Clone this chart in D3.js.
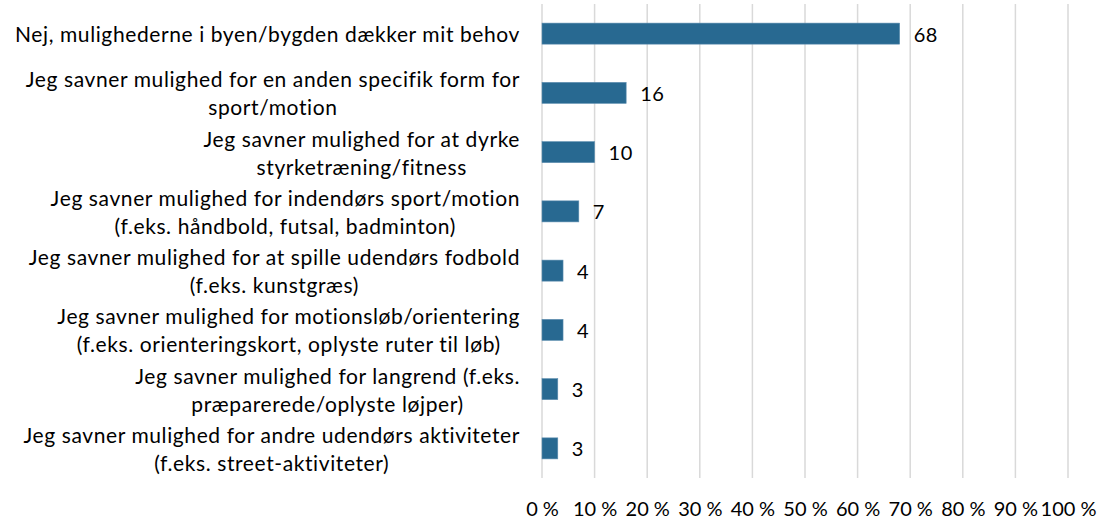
<!DOCTYPE html>
<html>
<head>
<meta charset="utf-8">
<script src="https://cdn.jsdelivr.net/npm/d3@7"></script>
<style>
  body { margin: 0; background: #fff; }
  text { font-family: Lato, "Open Sans", sans-serif; fill: #000; }
</style>
</head>
<body>
<div id="chart"></div>
<script>
/* chart data */
const categories = [
    ["Nej, mulighederne i byen/bygden dækker mit behov"],
    ["Jeg savner mulighed for en anden specifik form for", "sport/motion"],
    ["Jeg savner mulighed for at dyrke", "styrketræning/fitness"],
    ["Jeg savner mulighed for indendørs sport/motion", "(f.eks. håndbold, futsal, badminton)"],
    ["Jeg savner mulighed for at spille udendørs fodbold", "(f.eks. kunstgræs)"],
    ["Jeg savner mulighed for motionsløb/orientering", "(f.eks. orienteringskort, oplyste ruter til løb)"],
    ["Jeg savner mulighed for langrend (f.eks.", "præparerede/oplyste løjper)"],
    ["Jeg savner mulighed for andre udendørs aktiviteter", "(f.eks. street-aktiviteter)"]
];
const values = [68, 16, 10, 7, 4, 4, 3, 3];
const tickValues = [0, 10, 20, 30, 40, 50, 60, 70, 80, 90, 100];

const width = 1102;
const height = 524;
const margin = { top: 4, left: 542, right: 34, bottom: 46 };
const fontSize = 21;
const lineHeight = 28;

const svg = d3.select("#chart")
    .append("svg")
    .attr("width", width)
    .attr("height", height);

const xScale = d3.scaleLinear()
    .domain([0, 100])
    .range([margin.left, width - margin.right]);

const yScale = d3.scaleBand()
    .domain(d3.range(categories.length))
    .range([margin.top, height - margin.bottom])
    .paddingInner(0.645)
    .paddingOuter(0.3225);

// vertical gridlines
svg.append("g")
    .selectAll("line")
    .data(tickValues)
    .join("line")
    .attr("x1", d => xScale(d))
    .attr("x2", d => xScale(d))
    .attr("y1", margin.top)
    .attr("y2", height - margin.bottom)
    .attr("stroke", "#d9d9d9")
    .attr("stroke-width", 1.5);

// bars
svg.append("g")
    .selectAll("rect")
    .data(values)
    .join("rect")
    .attr("x", xScale(0))
    .attr("y", (d, i) => yScale(i))
    .attr("width", d => xScale(d) - xScale(0))
    .attr("height", yScale.bandwidth())
    .attr("fill", "#286991")
    .attr("stroke", "#5f8fb0")
    .attr("stroke-width", 0.6);

// value labels
svg.append("g")
    .selectAll("text")
    .data(values)
    .join("text")
    .attr("x", d => xScale(d) + 14)
    .attr("y", (d, i) => yScale(i) + yScale.bandwidth() / 2)
    .attr("dominant-baseline", "central")
    .attr("font-size", 20)
    .attr("letter-spacing", 0.5)
    .text(d => d);

// x axis labels
const xAxis = svg.append("g")
    .attr("transform", `translate(0,${height - margin.bottom})`)
    .call(d3.axisBottom(xScale)
        .tickValues(tickValues)
        .tickSize(0)
        .tickPadding(24)
        .tickFormat(d => d + " %"));
xAxis.select(".domain").remove();
xAxis.selectAll("text")
    .attr("font-size", 20)
    .attr("font-family", "Lato, 'Open Sans', sans-serif")
    .attr("fill", "#000");

// category labels: lines centred on each other, block right-aligned
const labelRight = 520;
const labels = svg.append("g")
    .selectAll("g")
    .data(categories)
    .join("g");

labels.each(function (lines, i) {
    const g = d3.select(this);
    const cy = yScale(i) + yScale.bandwidth() / 2;
    const texts = g.selectAll("text")
        .data(lines)
        .join("text")
        .attr("font-size", fontSize)
        .attr("letter-spacing", 0.6)
        .attr("text-anchor", "middle")
        .attr("dominant-baseline", "central")
        .attr("y", (d, j) => cy + (j - (lines.length - 1) / 2) * lineHeight)
        .text(d => d);
    const maxW = d3.max(texts.nodes(), n => n.getComputedTextLength());
    texts.attr("x", labelRight - maxW / 2);
});
</script>
</body>
</html>
